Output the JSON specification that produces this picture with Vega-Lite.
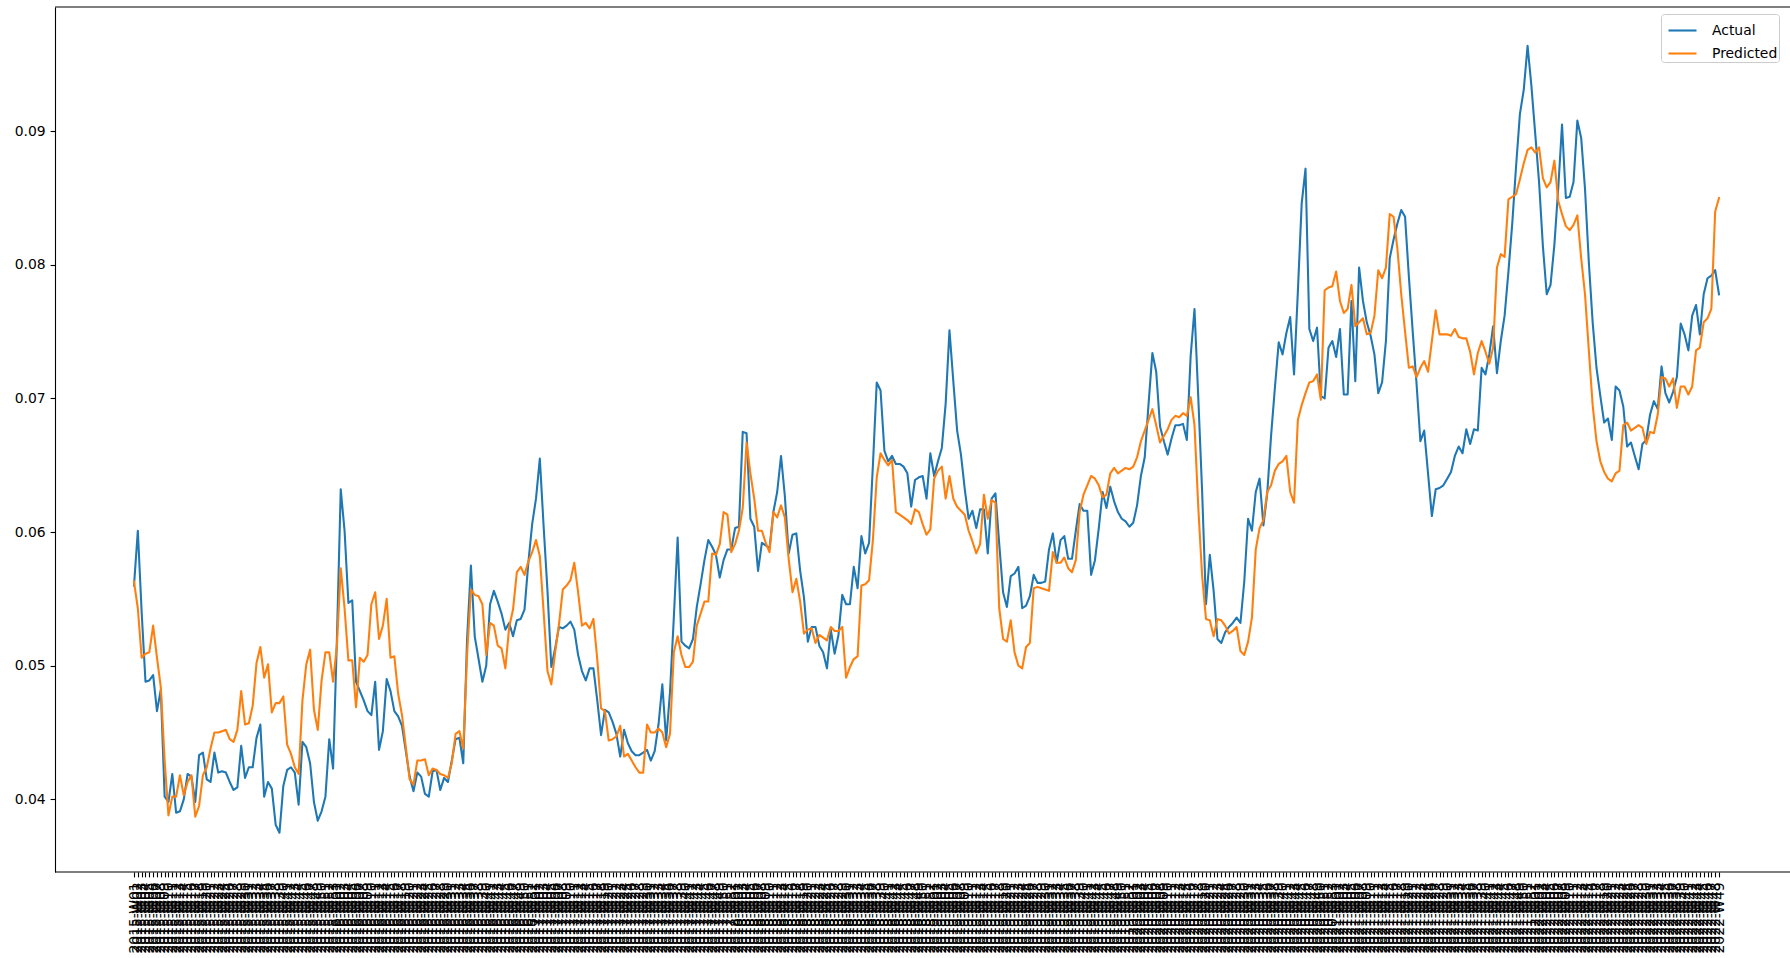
{
  "$schema": "https://vega.github.io/schema/vega-lite/v6.json",
  "width": 1735,
  "height": 865,
  "autosize": {"type": "none"},
  "padding": {"left": 55, "top": 7, "right": 0, "bottom": 86},
  "background": "white",
  "config": {"font": "DejaVu Sans", "view": {"stroke": null}},
  "datasets": {
    "weekly": [
{"w":"2015-W01","Actual":0.0560,"Predicted":0.0563},
{"w":"2015-W02","Actual":0.0601,"Predicted":0.0543},
{"w":"2015-W03","Actual":0.0540,"Predicted":0.0506},
{"w":"2015-W04","Actual":0.0488,"Predicted":0.0509},
{"w":"2015-W05","Actual":0.0489,"Predicted":0.0510},
{"w":"2015-W06","Actual":0.0493,"Predicted":0.0530},
{"w":"2015-W07","Actual":0.0466,"Predicted":0.0506},
{"w":"2015-W08","Actual":0.0482,"Predicted":0.0484},
{"w":"2015-W09","Actual":0.0402,"Predicted":0.0429},
{"w":"2015-W10","Actual":0.0398,"Predicted":0.0388},
{"w":"2015-W11","Actual":0.0419,"Predicted":0.0402},
{"w":"2015-W12","Actual":0.0390,"Predicted":0.0402},
{"w":"2015-W13","Actual":0.0391,"Predicted":0.0418},
{"w":"2015-W14","Actual":0.0400,"Predicted":0.0403},
{"w":"2015-W15","Actual":0.0419,"Predicted":0.0413},
{"w":"2015-W16","Actual":0.0417,"Predicted":0.0418},
{"w":"2015-W17","Actual":0.0398,"Predicted":0.0387},
{"w":"2015-W18","Actual":0.0433,"Predicted":0.0395},
{"w":"2015-W19","Actual":0.0435,"Predicted":0.0418},
{"w":"2015-W20","Actual":0.0415,"Predicted":0.0424},
{"w":"2015-W21","Actual":0.0413,"Predicted":0.0438},
{"w":"2015-W22","Actual":0.0435,"Predicted":0.0450},
{"w":"2015-W23","Actual":0.0420,"Predicted":0.0450},
{"w":"2015-W24","Actual":0.0421,"Predicted":0.0451},
{"w":"2015-W25","Actual":0.0420,"Predicted":0.0452},
{"w":"2015-W26","Actual":0.0413,"Predicted":0.0445},
{"w":"2015-W27","Actual":0.0407,"Predicted":0.0443},
{"w":"2015-W28","Actual":0.0409,"Predicted":0.0452},
{"w":"2015-W29","Actual":0.0440,"Predicted":0.0481},
{"w":"2015-W30","Actual":0.0416,"Predicted":0.0456},
{"w":"2015-W31","Actual":0.0424,"Predicted":0.0457},
{"w":"2015-W32","Actual":0.0424,"Predicted":0.0470},
{"w":"2015-W33","Actual":0.0446,"Predicted":0.0502},
{"w":"2015-W34","Actual":0.0456,"Predicted":0.0514},
{"w":"2015-W35","Actual":0.0402,"Predicted":0.0491},
{"w":"2015-W36","Actual":0.0413,"Predicted":0.0501},
{"w":"2015-W37","Actual":0.0408,"Predicted":0.0465},
{"w":"2015-W38","Actual":0.0381,"Predicted":0.0472},
{"w":"2015-W39","Actual":0.0375,"Predicted":0.0472},
{"w":"2015-W40","Actual":0.0410,"Predicted":0.0477},
{"w":"2015-W41","Actual":0.0422,"Predicted":0.0441},
{"w":"2015-W42","Actual":0.0424,"Predicted":0.0434},
{"w":"2015-W43","Actual":0.0420,"Predicted":0.0424},
{"w":"2015-W44","Actual":0.0396,"Predicted":0.0419},
{"w":"2015-W45","Actual":0.0443,"Predicted":0.0474},
{"w":"2015-W46","Actual":0.0439,"Predicted":0.0501},
{"w":"2015-W47","Actual":0.0427,"Predicted":0.0512},
{"w":"2015-W48","Actual":0.0398,"Predicted":0.0467},
{"w":"2015-W49","Actual":0.0384,"Predicted":0.0452},
{"w":"2015-W50","Actual":0.0391,"Predicted":0.0489},
{"w":"2015-W51","Actual":0.0402,"Predicted":0.0510},
{"w":"2015-W52","Actual":0.0445,"Predicted":0.0510},
{"w":"2015-W53","Actual":0.0423,"Predicted":0.0488},
{"w":"2016-W01","Actual":0.0520,"Predicted":0.0515},
{"w":"2016-W02","Actual":0.0632,"Predicted":0.0573},
{"w":"2016-W03","Actual":0.0601,"Predicted":0.0543},
{"w":"2016-W04","Actual":0.0547,"Predicted":0.0504},
{"w":"2016-W05","Actual":0.0549,"Predicted":0.0504},
{"w":"2016-W06","Actual":0.0488,"Predicted":0.0469},
{"w":"2016-W07","Actual":0.0481,"Predicted":0.0506},
{"w":"2016-W08","Actual":0.0474,"Predicted":0.0503},
{"w":"2016-W09","Actual":0.0466,"Predicted":0.0508},
{"w":"2016-W10","Actual":0.0463,"Predicted":0.0546},
{"w":"2016-W11","Actual":0.0488,"Predicted":0.0555},
{"w":"2016-W12","Actual":0.0437,"Predicted":0.0520},
{"w":"2016-W13","Actual":0.0451,"Predicted":0.0530},
{"w":"2016-W14","Actual":0.0490,"Predicted":0.0550},
{"w":"2016-W15","Actual":0.0481,"Predicted":0.0506},
{"w":"2016-W16","Actual":0.0466,"Predicted":0.0507},
{"w":"2016-W17","Actual":0.0462,"Predicted":0.0479},
{"w":"2016-W18","Actual":0.0455,"Predicted":0.0463},
{"w":"2016-W19","Actual":0.0436,"Predicted":0.0439},
{"w":"2016-W20","Actual":0.0417,"Predicted":0.0415},
{"w":"2016-W21","Actual":0.0406,"Predicted":0.0411},
{"w":"2016-W22","Actual":0.0420,"Predicted":0.0429},
{"w":"2016-W23","Actual":0.0417,"Predicted":0.0429},
{"w":"2016-W24","Actual":0.0404,"Predicted":0.0430},
{"w":"2016-W25","Actual":0.0402,"Predicted":0.0418},
{"w":"2016-W26","Actual":0.0421,"Predicted":0.0423},
{"w":"2016-W27","Actual":0.0422,"Predicted":0.0422},
{"w":"2016-W28","Actual":0.0407,"Predicted":0.0419},
{"w":"2016-W29","Actual":0.0416,"Predicted":0.0418},
{"w":"2016-W30","Actual":0.0413,"Predicted":0.0416},
{"w":"2016-W31","Actual":0.0429,"Predicted":0.0427},
{"w":"2016-W32","Actual":0.0445,"Predicted":0.0449},
{"w":"2016-W33","Actual":0.0446,"Predicted":0.0451},
{"w":"2016-W34","Actual":0.0427,"Predicted":0.0438},
{"w":"2016-W35","Actual":0.0520,"Predicted":0.0508},
{"w":"2016-W36","Actual":0.0575,"Predicted":0.0557},
{"w":"2016-W37","Actual":0.0522,"Predicted":0.0553},
{"w":"2016-W38","Actual":0.0505,"Predicted":0.0552},
{"w":"2016-W39","Actual":0.0488,"Predicted":0.0546},
{"w":"2016-W40","Actual":0.0500,"Predicted":0.0508},
{"w":"2016-W41","Actual":0.0546,"Predicted":0.0532},
{"w":"2016-W42","Actual":0.0556,"Predicted":0.0530},
{"w":"2016-W43","Actual":0.0548,"Predicted":0.0515},
{"w":"2016-W44","Actual":0.0539,"Predicted":0.0513},
{"w":"2016-W45","Actual":0.0527,"Predicted":0.0498},
{"w":"2016-W46","Actual":0.0532,"Predicted":0.0529},
{"w":"2016-W47","Actual":0.0522,"Predicted":0.0542},
{"w":"2016-W48","Actual":0.0534,"Predicted":0.0570},
{"w":"2016-W49","Actual":0.0535,"Predicted":0.0574},
{"w":"2016-W50","Actual":0.0542,"Predicted":0.0568},
{"w":"2016-W51","Actual":0.0577,"Predicted":0.0578},
{"w":"2016-W52","Actual":0.0606,"Predicted":0.0585},
{"w":"2017-W01","Actual":0.0625,"Predicted":0.0594},
{"w":"2017-W02","Actual":0.0655,"Predicted":0.0582},
{"w":"2017-W03","Actual":0.0604,"Predicted":0.0540},
{"w":"2017-W04","Actual":0.0556,"Predicted":0.0496},
{"w":"2017-W05","Actual":0.0499,"Predicted":0.0486},
{"w":"2017-W06","Actual":0.0513,"Predicted":0.0510},
{"w":"2017-W07","Actual":0.0529,"Predicted":0.0531},
{"w":"2017-W08","Actual":0.0528,"Predicted":0.0557},
{"w":"2017-W09","Actual":0.0530,"Predicted":0.0560},
{"w":"2017-W10","Actual":0.0533,"Predicted":0.0564},
{"w":"2017-W11","Actual":0.0527,"Predicted":0.0577},
{"w":"2017-W12","Actual":0.0508,"Predicted":0.0555},
{"w":"2017-W13","Actual":0.0496,"Predicted":0.0530},
{"w":"2017-W14","Actual":0.0489,"Predicted":0.0532},
{"w":"2017-W15","Actual":0.0498,"Predicted":0.0528},
{"w":"2017-W16","Actual":0.0498,"Predicted":0.0535},
{"w":"2017-W17","Actual":0.0474,"Predicted":0.0505},
{"w":"2017-W18","Actual":0.0448,"Predicted":0.0468},
{"w":"2017-W19","Actual":0.0467,"Predicted":0.0466},
{"w":"2017-W20","Actual":0.0465,"Predicted":0.0444},
{"w":"2017-W21","Actual":0.0458,"Predicted":0.0445},
{"w":"2017-W22","Actual":0.0449,"Predicted":0.0447},
{"w":"2017-W23","Actual":0.0432,"Predicted":0.0455},
{"w":"2017-W24","Actual":0.0452,"Predicted":0.0432},
{"w":"2017-W25","Actual":0.0442,"Predicted":0.0434},
{"w":"2017-W26","Actual":0.0436,"Predicted":0.0429},
{"w":"2017-W27","Actual":0.0433,"Predicted":0.0424},
{"w":"2017-W28","Actual":0.0433,"Predicted":0.0420},
{"w":"2017-W29","Actual":0.0435,"Predicted":0.0420},
{"w":"2017-W30","Actual":0.0437,"Predicted":0.0456},
{"w":"2017-W31","Actual":0.0429,"Predicted":0.0450},
{"w":"2017-W32","Actual":0.0436,"Predicted":0.0450},
{"w":"2017-W33","Actual":0.0456,"Predicted":0.0453},
{"w":"2017-W34","Actual":0.0486,"Predicted":0.0450},
{"w":"2017-W35","Actual":0.0444,"Predicted":0.0439},
{"w":"2017-W36","Actual":0.0480,"Predicted":0.0449},
{"w":"2017-W37","Actual":0.0536,"Predicted":0.0510},
{"w":"2017-W38","Actual":0.0596,"Predicted":0.0522},
{"w":"2017-W39","Actual":0.0518,"Predicted":0.0508},
{"w":"2017-W40","Actual":0.0515,"Predicted":0.0499},
{"w":"2017-W41","Actual":0.0513,"Predicted":0.0499},
{"w":"2017-W42","Actual":0.0520,"Predicted":0.0503},
{"w":"2017-W43","Actual":0.0544,"Predicted":0.0530},
{"w":"2017-W44","Actual":0.0561,"Predicted":0.0539},
{"w":"2017-W45","Actual":0.0579,"Predicted":0.0548},
{"w":"2017-W46","Actual":0.0594,"Predicted":0.0548},
{"w":"2017-W47","Actual":0.0589,"Predicted":0.0584},
{"w":"2017-W48","Actual":0.0583,"Predicted":0.0583},
{"w":"2017-W49","Actual":0.0566,"Predicted":0.0591},
{"w":"2017-W50","Actual":0.0579,"Predicted":0.0615},
{"w":"2017-W51","Actual":0.0587,"Predicted":0.0613},
{"w":"2017-W52","Actual":0.0587,"Predicted":0.0585},
{"w":"2018-W01","Actual":0.0603,"Predicted":0.0591},
{"w":"2018-W02","Actual":0.0604,"Predicted":0.0601},
{"w":"2018-W03","Actual":0.0675,"Predicted":0.0618},
{"w":"2018-W04","Actual":0.0674,"Predicted":0.0667},
{"w":"2018-W05","Actual":0.0610,"Predicted":0.0644},
{"w":"2018-W06","Actual":0.0604,"Predicted":0.0625},
{"w":"2018-W07","Actual":0.0571,"Predicted":0.0601},
{"w":"2018-W08","Actual":0.0592,"Predicted":0.0601},
{"w":"2018-W09","Actual":0.0590,"Predicted":0.0592},
{"w":"2018-W10","Actual":0.0588,"Predicted":0.0585},
{"w":"2018-W11","Actual":0.0615,"Predicted":0.0615},
{"w":"2018-W12","Actual":0.0630,"Predicted":0.0611},
{"w":"2018-W13","Actual":0.0657,"Predicted":0.0620},
{"w":"2018-W14","Actual":0.0627,"Predicted":0.0611},
{"w":"2018-W15","Actual":0.0584,"Predicted":0.0580},
{"w":"2018-W16","Actual":0.0598,"Predicted":0.0555},
{"w":"2018-W17","Actual":0.0599,"Predicted":0.0565},
{"w":"2018-W18","Actual":0.0571,"Predicted":0.0548},
{"w":"2018-W19","Actual":0.0551,"Predicted":0.0524},
{"w":"2018-W20","Actual":0.0518,"Predicted":0.0527},
{"w":"2018-W21","Actual":0.0529,"Predicted":0.0528},
{"w":"2018-W22","Actual":0.0529,"Predicted":0.0517},
{"w":"2018-W23","Actual":0.0515,"Predicted":0.0523},
{"w":"2018-W24","Actual":0.0510,"Predicted":0.0521},
{"w":"2018-W25","Actual":0.0498,"Predicted":0.0519},
{"w":"2018-W26","Actual":0.0527,"Predicted":0.0529},
{"w":"2018-W27","Actual":0.0509,"Predicted":0.0526},
{"w":"2018-W28","Actual":0.0523,"Predicted":0.0526},
{"w":"2018-W29","Actual":0.0553,"Predicted":0.0529},
{"w":"2018-W30","Actual":0.0546,"Predicted":0.0491},
{"w":"2018-W31","Actual":0.0546,"Predicted":0.0499},
{"w":"2018-W32","Actual":0.0574,"Predicted":0.0505},
{"w":"2018-W33","Actual":0.0558,"Predicted":0.0507},
{"w":"2018-W34","Actual":0.0597,"Predicted":0.0560},
{"w":"2018-W35","Actual":0.0584,"Predicted":0.0561},
{"w":"2018-W36","Actual":0.0592,"Predicted":0.0564},
{"w":"2018-W37","Actual":0.0650,"Predicted":0.0594},
{"w":"2018-W38","Actual":0.0712,"Predicted":0.0641},
{"w":"2018-W39","Actual":0.0706,"Predicted":0.0659},
{"w":"2018-W40","Actual":0.0661,"Predicted":0.0654},
{"w":"2018-W41","Actual":0.0653,"Predicted":0.0650},
{"w":"2018-W42","Actual":0.0657,"Predicted":0.0654},
{"w":"2018-W43","Actual":0.0651,"Predicted":0.0615},
{"w":"2018-W44","Actual":0.0651,"Predicted":0.0613},
{"w":"2018-W45","Actual":0.0649,"Predicted":0.0611},
{"w":"2018-W46","Actual":0.0644,"Predicted":0.0609},
{"w":"2018-W47","Actual":0.0619,"Predicted":0.0606},
{"w":"2018-W48","Actual":0.0639,"Predicted":0.0617},
{"w":"2018-W49","Actual":0.0641,"Predicted":0.0615},
{"w":"2018-W50","Actual":0.0642,"Predicted":0.0606},
{"w":"2018-W51","Actual":0.0625,"Predicted":0.0598},
{"w":"2018-W52","Actual":0.0659,"Predicted":0.0602},
{"w":"2019-W01","Actual":0.0642,"Predicted":0.0640},
{"w":"2019-W02","Actual":0.0653,"Predicted":0.0646},
{"w":"2019-W03","Actual":0.0663,"Predicted":0.0649},
{"w":"2019-W04","Actual":0.0696,"Predicted":0.0625},
{"w":"2019-W05","Actual":0.0751,"Predicted":0.0642},
{"w":"2019-W06","Actual":0.0713,"Predicted":0.0625},
{"w":"2019-W07","Actual":0.0676,"Predicted":0.0619},
{"w":"2019-W08","Actual":0.0658,"Predicted":0.0616},
{"w":"2019-W09","Actual":0.0632,"Predicted":0.0613},
{"w":"2019-W10","Actual":0.0610,"Predicted":0.0601},
{"w":"2019-W11","Actual":0.0616,"Predicted":0.0593},
{"w":"2019-W12","Actual":0.0603,"Predicted":0.0584},
{"w":"2019-W13","Actual":0.0617,"Predicted":0.0591},
{"w":"2019-W14","Actual":0.0617,"Predicted":0.0628},
{"w":"2019-W15","Actual":0.0584,"Predicted":0.0610},
{"w":"2019-W16","Actual":0.0625,"Predicted":0.0624},
{"w":"2019-W17","Actual":0.0629,"Predicted":0.0622},
{"w":"2019-W18","Actual":0.0591,"Predicted":0.0543},
{"w":"2019-W19","Actual":0.0555,"Predicted":0.0520},
{"w":"2019-W20","Actual":0.0544,"Predicted":0.0518},
{"w":"2019-W21","Actual":0.0567,"Predicted":0.0534},
{"w":"2019-W22","Actual":0.0569,"Predicted":0.0510},
{"w":"2019-W23","Actual":0.0574,"Predicted":0.0500},
{"w":"2019-W24","Actual":0.0543,"Predicted":0.0498},
{"w":"2019-W25","Actual":0.0545,"Predicted":0.0514},
{"w":"2019-W26","Actual":0.0552,"Predicted":0.0517},
{"w":"2019-W27","Actual":0.0568,"Predicted":0.0558},
{"w":"2019-W28","Actual":0.0562,"Predicted":0.0559},
{"w":"2019-W29","Actual":0.0562,"Predicted":0.0558},
{"w":"2019-W30","Actual":0.0563,"Predicted":0.0557},
{"w":"2019-W31","Actual":0.0587,"Predicted":0.0556},
{"w":"2019-W32","Actual":0.0599,"Predicted":0.0585},
{"w":"2019-W33","Actual":0.0577,"Predicted":0.0577},
{"w":"2019-W34","Actual":0.0594,"Predicted":0.0577},
{"w":"2019-W35","Actual":0.0597,"Predicted":0.0581},
{"w":"2019-W36","Actual":0.0580,"Predicted":0.0573},
{"w":"2019-W37","Actual":0.0580,"Predicted":0.0570},
{"w":"2019-W38","Actual":0.0601,"Predicted":0.0579},
{"w":"2019-W39","Actual":0.0621,"Predicted":0.0615},
{"w":"2019-W40","Actual":0.0616,"Predicted":0.0628},
{"w":"2019-W41","Actual":0.0616,"Predicted":0.0635},
{"w":"2019-W42","Actual":0.0568,"Predicted":0.0642},
{"w":"2019-W43","Actual":0.0579,"Predicted":0.0640},
{"w":"2019-W44","Actual":0.0603,"Predicted":0.0635},
{"w":"2019-W45","Actual":0.0630,"Predicted":0.0626},
{"w":"2019-W46","Actual":0.0618,"Predicted":0.0628},
{"w":"2019-W47","Actual":0.0634,"Predicted":0.0644},
{"w":"2019-W48","Actual":0.0623,"Predicted":0.0648},
{"w":"2019-W49","Actual":0.0615,"Predicted":0.0644},
{"w":"2019-W50","Actual":0.0610,"Predicted":0.0646},
{"w":"2019-W51","Actual":0.0608,"Predicted":0.0648},
{"w":"2019-W52","Actual":0.0604,"Predicted":0.0647},
{"w":"2020-W01","Actual":0.0607,"Predicted":0.0649},
{"w":"2020-W02","Actual":0.0620,"Predicted":0.0656},
{"w":"2020-W03","Actual":0.0642,"Predicted":0.0668},
{"w":"2020-W04","Actual":0.0656,"Predicted":0.0676},
{"w":"2020-W05","Actual":0.0696,"Predicted":0.0684},
{"w":"2020-W06","Actual":0.0734,"Predicted":0.0692},
{"w":"2020-W07","Actual":0.0720,"Predicted":0.0680},
{"w":"2020-W08","Actual":0.0679,"Predicted":0.0667},
{"w":"2020-W09","Actual":0.0668,"Predicted":0.0672},
{"w":"2020-W10","Actual":0.0658,"Predicted":0.0677},
{"w":"2020-W11","Actual":0.0670,"Predicted":0.0684},
{"w":"2020-W12","Actual":0.0680,"Predicted":0.0687},
{"w":"2020-W13","Actual":0.0680,"Predicted":0.0686},
{"w":"2020-W14","Actual":0.0681,"Predicted":0.0689},
{"w":"2020-W15","Actual":0.0669,"Predicted":0.0687},
{"w":"2020-W16","Actual":0.0732,"Predicted":0.0701},
{"w":"2020-W17","Actual":0.0767,"Predicted":0.0680},
{"w":"2020-W18","Actual":0.0700,"Predicted":0.0618},
{"w":"2020-W19","Actual":0.0630,"Predicted":0.0567},
{"w":"2020-W20","Actual":0.0546,"Predicted":0.0535},
{"w":"2020-W21","Actual":0.0583,"Predicted":0.0534},
{"w":"2020-W22","Actual":0.0556,"Predicted":0.0522},
{"w":"2020-W23","Actual":0.0520,"Predicted":0.0535},
{"w":"2020-W24","Actual":0.0517,"Predicted":0.0534},
{"w":"2020-W25","Actual":0.0525,"Predicted":0.0530},
{"w":"2020-W26","Actual":0.0529,"Predicted":0.0524},
{"w":"2020-W27","Actual":0.0532,"Predicted":0.0526},
{"w":"2020-W28","Actual":0.0536,"Predicted":0.0529},
{"w":"2020-W29","Actual":0.0532,"Predicted":0.0511},
{"w":"2020-W30","Actual":0.0563,"Predicted":0.0508},
{"w":"2020-W31","Actual":0.0610,"Predicted":0.0518},
{"w":"2020-W32","Actual":0.0601,"Predicted":0.0536},
{"w":"2020-W33","Actual":0.0630,"Predicted":0.0587},
{"w":"2020-W34","Actual":0.0640,"Predicted":0.0603},
{"w":"2020-W35","Actual":0.0605,"Predicted":0.0609},
{"w":"2020-W36","Actual":0.0629,"Predicted":0.0630},
{"w":"2020-W37","Actual":0.0672,"Predicted":0.0635},
{"w":"2020-W38","Actual":0.0708,"Predicted":0.0646},
{"w":"2020-W39","Actual":0.0742,"Predicted":0.0651},
{"w":"2020-W40","Actual":0.0733,"Predicted":0.0653},
{"w":"2020-W41","Actual":0.0749,"Predicted":0.0657},
{"w":"2020-W42","Actual":0.0761,"Predicted":0.0630},
{"w":"2020-W43","Actual":0.0718,"Predicted":0.0622},
{"w":"2020-W44","Actual":0.0780,"Predicted":0.0684},
{"w":"2020-W45","Actual":0.0846,"Predicted":0.0695},
{"w":"2020-W46","Actual":0.0872,"Predicted":0.0704},
{"w":"2020-W47","Actual":0.0752,"Predicted":0.0712},
{"w":"2020-W48","Actual":0.0743,"Predicted":0.0713},
{"w":"2020-W49","Actual":0.0753,"Predicted":0.0718},
{"w":"2020-W50","Actual":0.0702,"Predicted":0.0699},
{"w":"2020-W51","Actual":0.0700,"Predicted":0.0781},
{"w":"2020-W52","Actual":0.0738,"Predicted":0.0783},
{"w":"2020-W53","Actual":0.0743,"Predicted":0.0784},
{"w":"2021-W01","Actual":0.0731,"Predicted":0.0795},
{"w":"2021-W02","Actual":0.0752,"Predicted":0.0773},
{"w":"2021-W03","Actual":0.0703,"Predicted":0.0764},
{"w":"2021-W04","Actual":0.0703,"Predicted":0.0767},
{"w":"2021-W05","Actual":0.0773,"Predicted":0.0785},
{"w":"2021-W06","Actual":0.0713,"Predicted":0.0754},
{"w":"2021-W07","Actual":0.0798,"Predicted":0.0757},
{"w":"2021-W08","Actual":0.0773,"Predicted":0.0760},
{"w":"2021-W09","Actual":0.0757,"Predicted":0.0748},
{"w":"2021-W10","Actual":0.0747,"Predicted":0.0749},
{"w":"2021-W11","Actual":0.0733,"Predicted":0.0762},
{"w":"2021-W12","Actual":0.0704,"Predicted":0.0796},
{"w":"2021-W13","Actual":0.0712,"Predicted":0.0790},
{"w":"2021-W14","Actual":0.0743,"Predicted":0.0798},
{"w":"2021-W15","Actual":0.0805,"Predicted":0.0838},
{"w":"2021-W16","Actual":0.0819,"Predicted":0.0836},
{"w":"2021-W17","Actual":0.0831,"Predicted":0.0812},
{"w":"2021-W18","Actual":0.0841,"Predicted":0.0778},
{"w":"2021-W19","Actual":0.0836,"Predicted":0.0750},
{"w":"2021-W20","Actual":0.0791,"Predicted":0.0723},
{"w":"2021-W21","Actual":0.0750,"Predicted":0.0724},
{"w":"2021-W22","Actual":0.0711,"Predicted":0.0716},
{"w":"2021-W23","Actual":0.0668,"Predicted":0.0723},
{"w":"2021-W24","Actual":0.0676,"Predicted":0.0728},
{"w":"2021-W25","Actual":0.0644,"Predicted":0.0720},
{"w":"2021-W26","Actual":0.0612,"Predicted":0.0743},
{"w":"2021-W27","Actual":0.0632,"Predicted":0.0766},
{"w":"2021-W28","Actual":0.0633,"Predicted":0.0748},
{"w":"2021-W29","Actual":0.0635,"Predicted":0.0748},
{"w":"2021-W30","Actual":0.0640,"Predicted":0.0748},
{"w":"2021-W31","Actual":0.0645,"Predicted":0.0747},
{"w":"2021-W32","Actual":0.0657,"Predicted":0.0752},
{"w":"2021-W33","Actual":0.0664,"Predicted":0.0746},
{"w":"2021-W34","Actual":0.0659,"Predicted":0.0745},
{"w":"2021-W35","Actual":0.0677,"Predicted":0.0745},
{"w":"2021-W36","Actual":0.0666,"Predicted":0.0735},
{"w":"2021-W37","Actual":0.0677,"Predicted":0.0718},
{"w":"2021-W38","Actual":0.0676,"Predicted":0.0734},
{"w":"2021-W39","Actual":0.0723,"Predicted":0.0743},
{"w":"2021-W40","Actual":0.0718,"Predicted":0.0735},
{"w":"2021-W41","Actual":0.0733,"Predicted":0.0726},
{"w":"2021-W42","Actual":0.0754,"Predicted":0.0738},
{"w":"2021-W43","Actual":0.0719,"Predicted":0.0798},
{"w":"2021-W44","Actual":0.0743,"Predicted":0.0808},
{"w":"2021-W45","Actual":0.0762,"Predicted":0.0806},
{"w":"2021-W46","Actual":0.0795,"Predicted":0.0849},
{"w":"2021-W47","Actual":0.0831,"Predicted":0.0851},
{"w":"2021-W48","Actual":0.0874,"Predicted":0.0853},
{"w":"2021-W49","Actual":0.0913,"Predicted":0.0864},
{"w":"2021-W50","Actual":0.0931,"Predicted":0.0876},
{"w":"2021-W51","Actual":0.0964,"Predicted":0.0886},
{"w":"2021-W52","Actual":0.0934,"Predicted":0.0888},
{"w":"2022-W01","Actual":0.0898,"Predicted":0.0884},
{"w":"2022-W02","Actual":0.0862,"Predicted":0.0888},
{"w":"2022-W03","Actual":0.0814,"Predicted":0.0865},
{"w":"2022-W04","Actual":0.0778,"Predicted":0.0858},
{"w":"2022-W05","Actual":0.0785,"Predicted":0.0862},
{"w":"2022-W06","Actual":0.0815,"Predicted":0.0878},
{"w":"2022-W07","Actual":0.0857,"Predicted":0.0848},
{"w":"2022-W08","Actual":0.0905,"Predicted":0.0838},
{"w":"2022-W09","Actual":0.0850,"Predicted":0.0829},
{"w":"2022-W10","Actual":0.0851,"Predicted":0.0826},
{"w":"2022-W11","Actual":0.0862,"Predicted":0.0830},
{"w":"2022-W12","Actual":0.0908,"Predicted":0.0837},
{"w":"2022-W13","Actual":0.0895,"Predicted":0.0805},
{"w":"2022-W14","Actual":0.0857,"Predicted":0.0778},
{"w":"2022-W15","Actual":0.0802,"Predicted":0.0736},
{"w":"2022-W16","Actual":0.0757,"Predicted":0.0695},
{"w":"2022-W17","Actual":0.0723,"Predicted":0.0668},
{"w":"2022-W18","Actual":0.0702,"Predicted":0.0653},
{"w":"2022-W19","Actual":0.0682,"Predicted":0.0645},
{"w":"2022-W20","Actual":0.0685,"Predicted":0.0640},
{"w":"2022-W21","Actual":0.0669,"Predicted":0.0638},
{"w":"2022-W22","Actual":0.0709,"Predicted":0.0644},
{"w":"2022-W23","Actual":0.0706,"Predicted":0.0646},
{"w":"2022-W24","Actual":0.0694,"Predicted":0.0680},
{"w":"2022-W25","Actual":0.0664,"Predicted":0.0682},
{"w":"2022-W26","Actual":0.0667,"Predicted":0.0676},
{"w":"2022-W27","Actual":0.0657,"Predicted":0.0678},
{"w":"2022-W28","Actual":0.0647,"Predicted":0.0680},
{"w":"2022-W29","Actual":0.0666,"Predicted":0.0678},
{"w":"2022-W30","Actual":0.0669,"Predicted":0.0666},
{"w":"2022-W31","Actual":0.0688,"Predicted":0.0675},
{"w":"2022-W32","Actual":0.0698,"Predicted":0.0674},
{"w":"2022-W33","Actual":0.0692,"Predicted":0.0688},
{"w":"2022-W34","Actual":0.0724,"Predicted":0.0716},
{"w":"2022-W35","Actual":0.0704,"Predicted":0.0715},
{"w":"2022-W36","Actual":0.0697,"Predicted":0.0709},
{"w":"2022-W37","Actual":0.0705,"Predicted":0.0715},
{"w":"2022-W38","Actual":0.0716,"Predicted":0.0693},
{"w":"2022-W39","Actual":0.0756,"Predicted":0.0709},
{"w":"2022-W40","Actual":0.0748,"Predicted":0.0709},
{"w":"2022-W41","Actual":0.0736,"Predicted":0.0703},
{"w":"2022-W42","Actual":0.0762,"Predicted":0.0709},
{"w":"2022-W43","Actual":0.0770,"Predicted":0.0736},
{"w":"2022-W44","Actual":0.0748,"Predicted":0.0738},
{"w":"2022-W45","Actual":0.0778,"Predicted":0.0757},
{"w":"2022-W46","Actual":0.0790,"Predicted":0.0760},
{"w":"2022-W47","Actual":0.0792,"Predicted":0.0767},
{"w":"2022-W48","Actual":0.0796,"Predicted":0.0840},
{"w":"2022-W49","Actual":0.0778,"Predicted":0.0850}
    ]
  },
  "layer": [
    {
      "data": {"name": "weekly"},
      "transform": [{"fold": ["Actual", "Predicted"], "as": ["series", "value"]}],
      "mark": {"type": "line", "strokeWidth": 2.08, "strokeJoin": "round", "strokeCap": "square"},
      "encoding": {
        "x": {
          "field": "w",
          "type": "ordinal",
          "sort": null,
          "scale": {"type": "point", "range": [79, 1664], "padding": 0, "round": false},
          "axis": {
            "title": null,
            "domain": false,
            "labelAngle": 270,
            "labelAlign": "right",
            "labelBaseline": "middle",
            "labelFontSize": 13.9,
            "labelFont": "DejaVu Sans",
            "labelColor": "#000000",
            "labelOverlap": false,
            "labelBound": false,
            "labelFlush": false,
            "labelPadding": 4.9,
            "tickSize": 4.9,
            "tickWidth": 1.1,
            "tickColor": "#000000",
            "grid": false
          }
        },
        "y": {
          "field": "value",
          "type": "quantitative",
          "scale": {"domain": [0.03456, 0.0993], "nice": false, "zero": false},
          "axis": {
            "title": null,
            "values": [0.04, 0.05, 0.06, 0.07, 0.08, 0.09],
            "format": ".2f",
            "labelFontSize": 13.9,
            "labelFont": "DejaVu Sans",
            "labelColor": "#000000",
            "labelPadding": 4.9,
            "tickSize": 4.9,
            "tickWidth": 1.1,
            "tickColor": "#000000",
            "domainColor": "#000000",
            "domainWidth": 1.1,
            "grid": false
          }
        },
        "color": {
          "field": "series",
          "type": "nominal",
          "scale": {"domain": ["Actual", "Predicted"], "range": ["#1f77b4", "#ff7f0e"]},
          "legend": {
            "title": null,
            "orient": "none",
            "legendX": 1606,
            "legendY": 7,
            "symbolType": "stroke",
            "symbolSize": 784,
            "symbolStrokeWidth": 2.08,
            "labelFontSize": 13.9,
            "labelFont": "DejaVu Sans",
            "labelColor": "#000000",
            "labelOffset": 14,
            "rowPadding": -4,
            "padding": 1,
            "symbolOffset": 5,
            "fillColor": "rgba(255,255,255,0.8)",
            "strokeColor": "#cccccc",
            "cornerRadius": 3
          }
        }
      }
    },
    {
      "data": {"values": [{}]},
      "mark": {"type": "rule", "color": "#000000", "strokeWidth": 1.1},
      "encoding": {"y": {"datum": 0.0993}}
    },
    {
      "data": {"values": [{}]},
      "mark": {"type": "rule", "color": "#000000", "strokeWidth": 1.1},
      "encoding": {"y": {"datum": 0.03456}}
    }
  ]
}
